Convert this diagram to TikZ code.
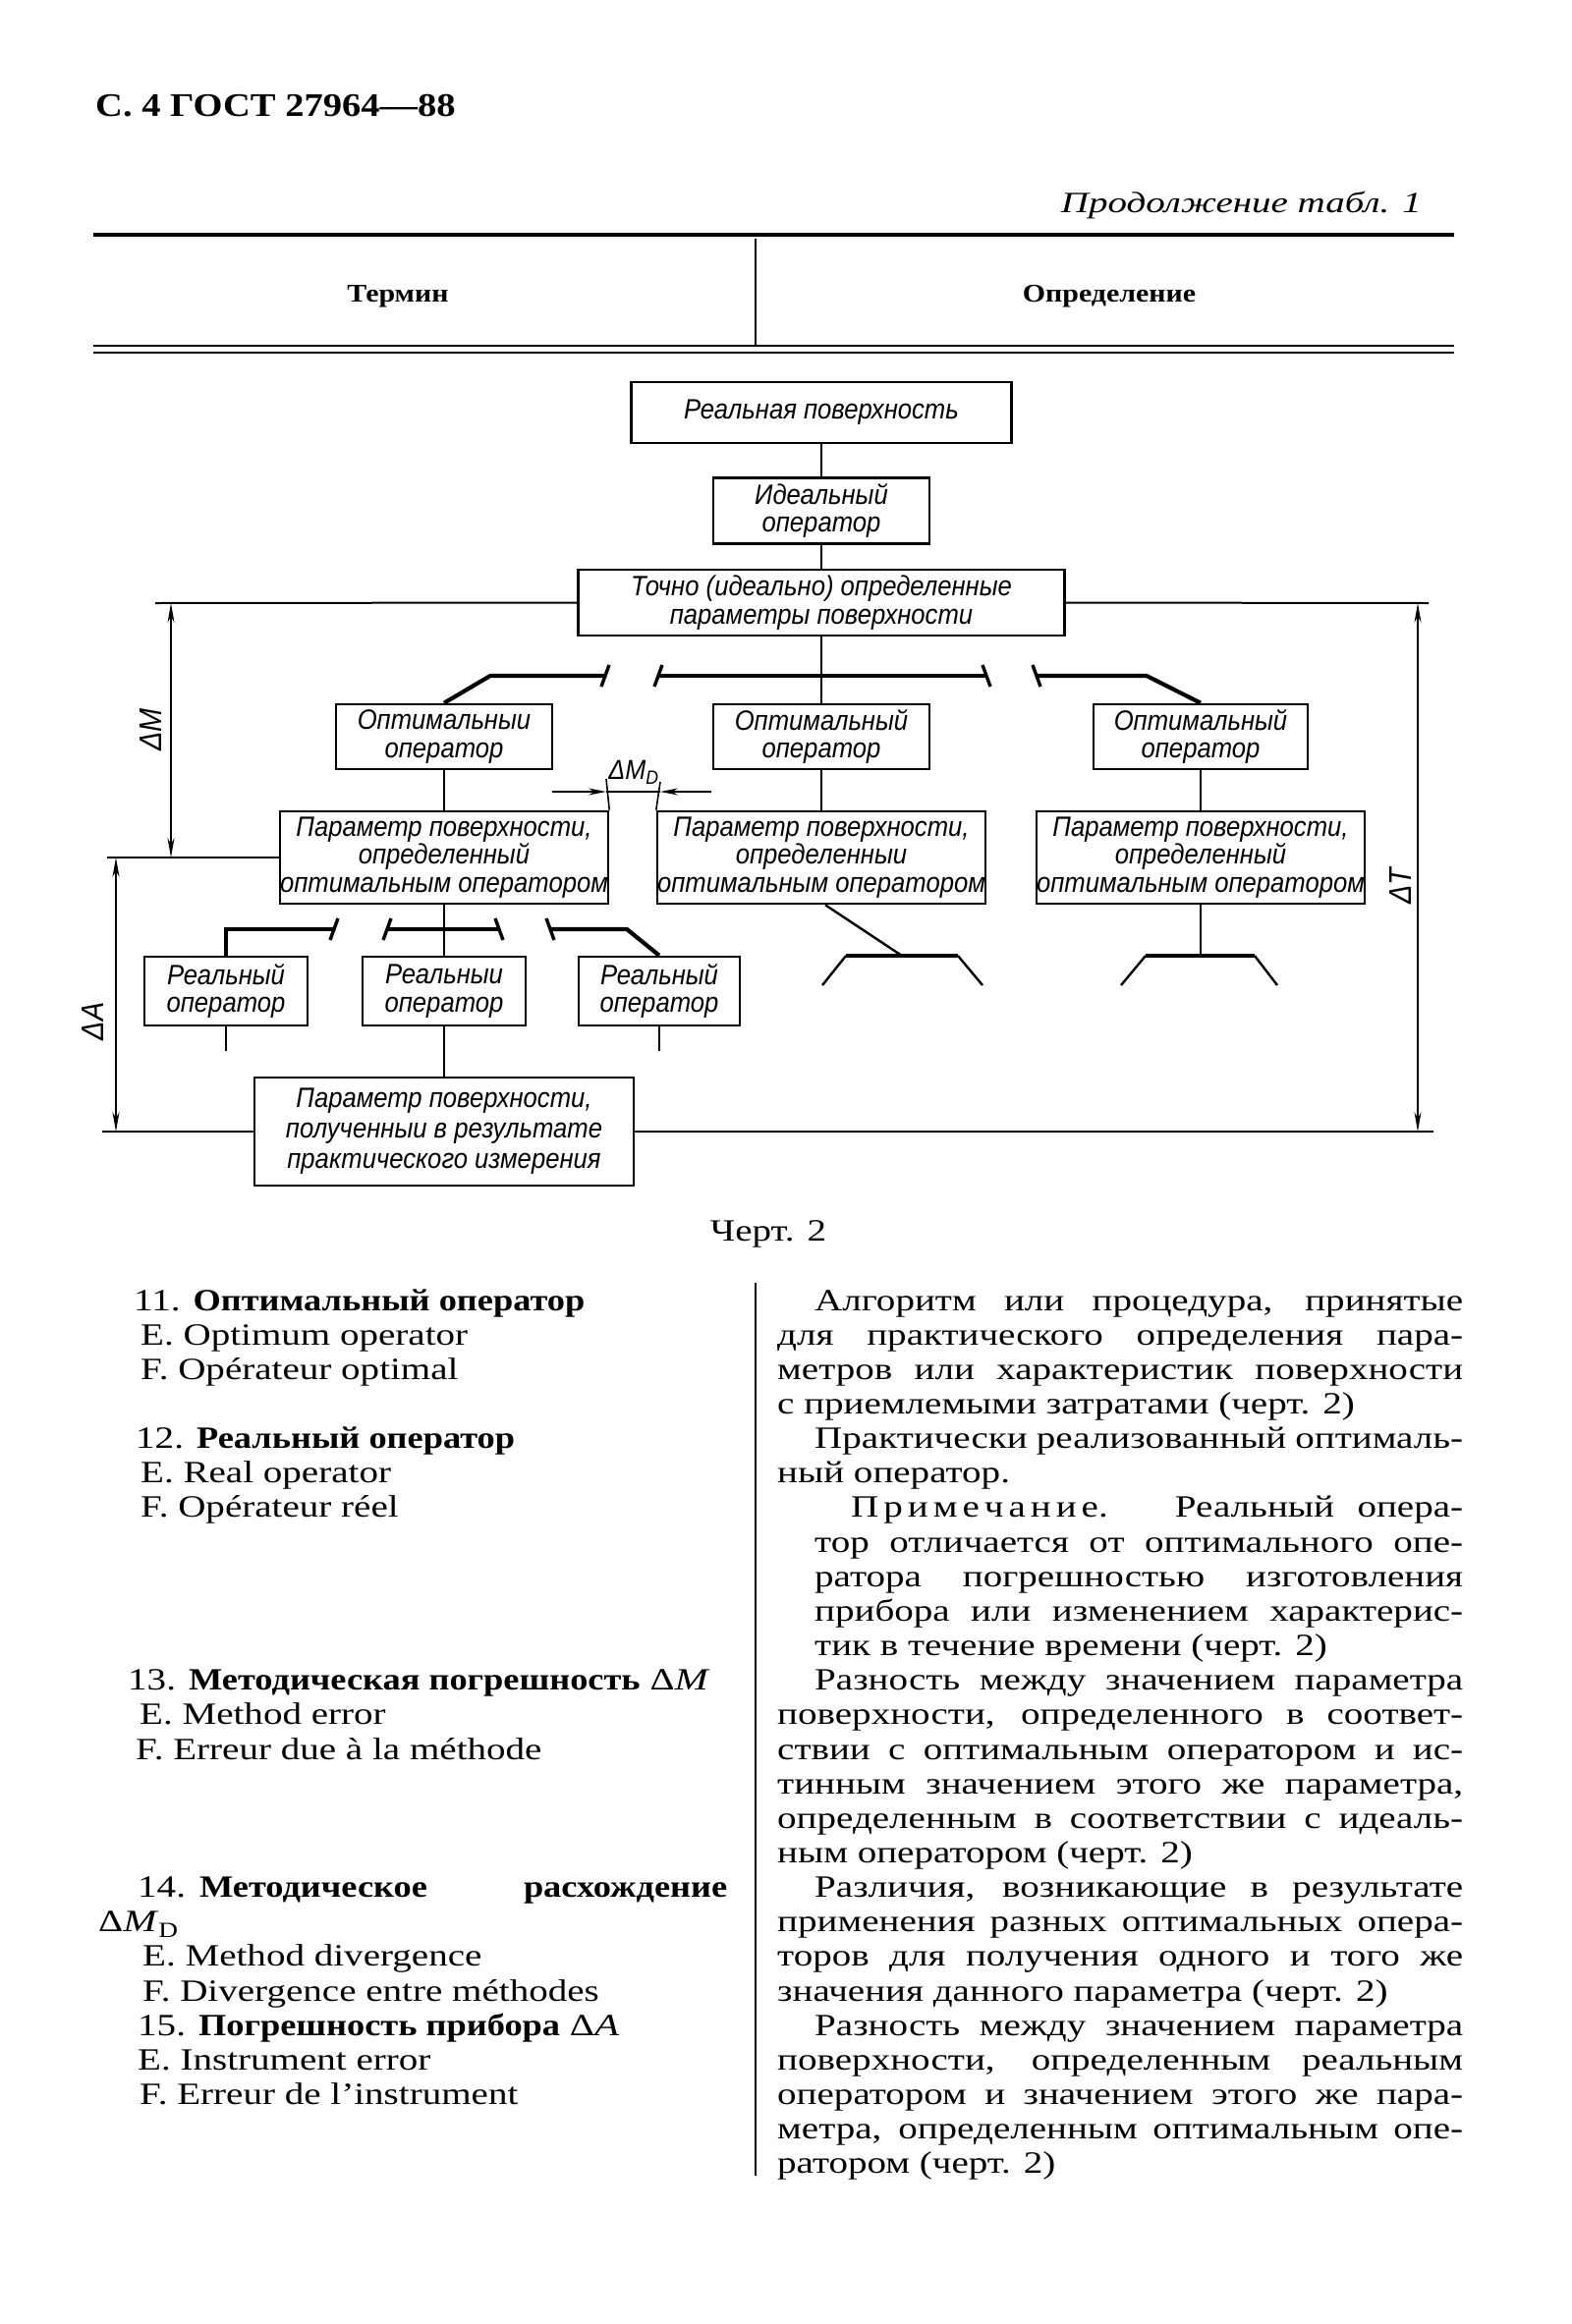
\documentclass[tikz,border=0pt]{standalone}
\usepackage{fontspec}
\setmainfont{Liberation Serif}[UprightFeatures={FakeStretch=1.24}, ItalicFeatures={FakeStretch=1.3}, BoldFeatures={FakeStretch=1.155}, BoldItalicFeatures={FakeStretch=1.155}]
\newfontfamily\hdrfont{Liberation Serif}[FakeStretch=1.15]
\newfontfamily\drfont{Liberation Sans}[FakeStretch=0.9]
\usetikzlibrary{arrows.meta}
\tikzset{
  box/.style={draw, line width=2.6pt, inner sep=0pt, align=center,
    font=\drfont\itshape\fontsize{28.5}{28.5}\selectfont},
  conn/.style={line width=2.4pt},
  brk/.style={line width=4.2pt},
  tk/.style={line width=3.4pt},
  thinl/.style={line width=2pt},
  dim/.style={line width=1.6pt},
  dimarr/.style={dim, {Stealth[length=20pt,width=7pt]}-{Stealth[length=20pt,width=7pt]}},
  onearr/.style={dim, -{Stealth[length=18pt,width=7pt]}},
  dlab/.style={font=\drfont\itshape\fontsize{32}{32}\selectfont, inner sep=0pt},
  body/.style={anchor=base west, inner sep=0pt, font=\fontsize{31.5}{35}\selectfont},
  rule/.style={line width=4pt}
}
\begin{document}
\begin{tikzpicture}[x=1pt,y=-1pt]
\fill[white] (0,0) rectangle (1600,2366);
\useasboundingbox (0,0) rectangle (1600,2366);

% ---------- header ----------
\node[anchor=base west, inner sep=0pt, font=\hdrfont\bfseries\fontsize{33.5}{33.5}\selectfont] (hdr) at (97,118) {С. 4 ГОСТ 27964—88};
\node[anchor=base east, inner sep=0pt, font=\itshape\fontsize{30}{30}\selectfont] (cont) at (1447,216) {Продолжение табл. 1};
\coordinate (ra) at (95,239); \coordinate (rb) at (1480,239);
\draw[rule] (ra) -- (rb);
\coordinate (dv1) at (769,243); \coordinate (dv2) at (769,352);
\draw[line width=1.6pt] (dv1) -- (dv2);
\node[inner sep=0pt, font=\bfseries\fontsize{25.9}{25.9}\selectfont] (term) at (405,302) {Термин};
\node[inner sep=0pt, font=\bfseries\fontsize{25.9}{25.9}\selectfont] (defn) at (1129,302) {Определение};
\coordinate (da1) at (95,352); \coordinate (db1) at (1480,352);
\coordinate (da2) at (95,359); \coordinate (db2) at (1480,359);
\draw[line width=2.6pt] (da1) -- (db1);
\draw[line width=2.6pt] (da2) -- (db2);

% ---------- diagram boxes ----------
\node[box, minimum width=387pt, minimum height=62pt] (rs) at (836,420) {Реальная поверхность};
\node[box, minimum width=220pt, minimum height=67pt] (io) at (836,520) {Идеальный\\оператор};
\node[box, minimum width=495pt, minimum height=67pt] (tp) at (836,613.5) {Точно (идеально) определенные\\параметры поверхности};
\node[box, minimum width=220pt, minimum height=66pt] (o1) at (452,750) {Оптимальныи\\оператор};
\node[box, minimum width=220pt, minimum height=66pt] (o2) at (836,750) {Оптимальный\\оператор};
\node[box, minimum width=218pt, minimum height=66pt] (o3) at (1222,750) {Оптимальный\\оператор};
\node[box, minimum width=330pt, minimum height=94pt] (p1) at (452,873) {Параметр поверхности,\\определенный\\оптимальным оператором};
\node[box, minimum width=328pt, minimum height=94pt] (p2) at (836,873) {Параметр поверхности,\\определенныи\\оптимальным оператором};
\node[box, minimum width=332pt, minimum height=94pt] (p3) at (1222,873) {Параметр поверхности,\\определенный\\оптимальным оператором};
\node[box, minimum width=166pt, minimum height=70pt] (r1) at (230,1009) {Реальный\\оператор};
\node[box, minimum width=166pt, minimum height=70pt] (r2) at (452,1009) {Реальныи\\оператор};
\node[box, minimum width=164pt, minimum height=70pt] (r3) at (671,1009) {Реальный\\оператор};
\node[box, minimum width=386pt, minimum height=110pt, font=\drfont\itshape\fontsize{28.5}{31}\selectfont] (fm) at (452,1152) {Параметр поверхности,\\полученныи в результате\\практического измерения};

% ---------- connectors ----------
\draw[conn] (rs) -- (io);
\draw[conn] (io) -- (tp);
\draw[conn] (tp.south) -- (o2.north);
\draw[conn] (o1) -- (p1);
\draw[conn] (o2) -- (p2);
\draw[conn] (o3) -- (p3);
\draw[conn] (p1.south) -- (r2.north);
\draw[conn] (r2) -- (fm);

% upper brackets
\coordinate (bl1) at (616,688);
\coordinate (bm1) at (670,688); \coordinate (bm2) at (1004,688);
\coordinate (br1) at (1055,688);
\draw[brk] (o1.north) -- (499,688) -- (bl1);
\draw[brk] (bm1) -- (bm2);
\draw[brk] (br1) -- (1167,688) -- (o3.north);
\draw[tk, shift={(bl1)}] (4,-11) -- (-4,11);
\draw[tk, shift={(bm1)}] (4,-11) -- (-4,11);
\draw[tk, shift={(bm2)}] (-4,-11) -- (4,11);
\draw[tk, shift={(br1)}] (-4,-11) -- (4,11);

% lower brackets
\coordinate (ll1) at (340,946);
\coordinate (lm1) at (394,946); \coordinate (lm2) at (508,946);
\coordinate (lr1) at (560,946);
\draw[brk] (r1.north) -- (230,946) -- (ll1);
\draw[brk] (lm1) -- (lm2);
\draw[brk] (lr1) -- (638,946) -- (r3.north);
\draw[tk, shift={(ll1)}] (4,-11) -- (-4,11);
\draw[tk, shift={(lm1)}] (4,-11) -- (-4,11);
\draw[tk, shift={(lm2)}] (-4,-11) -- (4,11);
\draw[tk, shift={(lr1)}] (-4,-11) -- (4,11);

% dangling lines under real operators
\coordinate (r1d) at (230,1070); \coordinate (r3d) at (671,1070);
\draw[conn] (r1.south) -- (r1d);
\draw[conn] (r3.south) -- (r3d);

% trapezoids
\coordinate (t2) at (918,973);
\coordinate (t3) at (1222,973);
\draw[conn] ([xshift=4pt]p2.south) -- (t2);
\draw[conn] (p3.south) -- (t3);
\draw[brk, shift={(t2)}] (-57,0) -- (57,0);
\draw[conn, shift={(t2)}] (-81,30) -- (-57,0);
\draw[conn, shift={(t2)}] (57,0) -- (82,30);
\draw[brk, shift={(t3)}] (-56,0) -- (55,0);
\draw[conn, shift={(t3)}] (-81,30) -- (-56,0);
\draw[conn, shift={(t3)}] (55,0) -- (78,30);

% horizontal reference lines
\coordinate (hTL) at (158,614); \coordinate (hTR) at (1454,614);
\coordinate (hML) at (109,873);
\coordinate (hBL) at (104,1152); \coordinate (hBR) at (1459,1152);
\draw[thinl] (tp.west) -- (hTL);
\draw[thinl] (tp.east) -- (hTR);
\draw[thinl] (p1.west) -- (hML);
\draw[thinl] (fm.west) -- (hBL);
\draw[thinl] (fm.east) -- (hBR);

% dimension arrows
\coordinate (dMt) at (174,614); \coordinate (dMb) at (174,873);
\coordinate (dAt) at (118,873); \coordinate (dAb) at (118,1152);
\coordinate (dTt) at (1443,614); \coordinate (dTb) at (1443,1152);
\draw[dimarr] (dMt) -- (dMb);
\draw[dimarr] (dAt) -- (dAb);
\draw[dimarr] (dTt) -- (dTb);
\node[dlab, rotate=90] (lM) at (153,743) {ΔM};
\node[dlab, rotate=90] (lA) at (94,1040) {ΔA};
\node[dlab, rotate=90] (lT) at (1425,902) {ΔT};

% Delta M_D
\coordinate (eL) at (617,793); \coordinate (eR) at (672,796);
\draw[dim] (p1.north east) -- (eL);
\draw[dim] (p2.north west) -- (eR);
\coordinate (aL) at (562,806); \coordinate (aLt) at (617,806);
\coordinate (aR) at (724,806); \coordinate (aRt) at (672,806);
\draw[onearr] (aL) -- (aLt);
\draw[onearr] (aR) -- (aRt);
\draw[dim] (aLt) -- (aRt);
\node[dlab, font=\drfont\itshape\fontsize{28}{28}\selectfont] (lMD) at (645,786) {ΔM\textsubscript{D}};

% caption
\node[inner sep=0pt, font=\fontsize{31.5}{35}\selectfont] (cap) at (782,1256) {Черт. 2};

% ---------- text section ----------
\coordinate (cd1) at (769,1306); \coordinate (cd2) at (769,2215);
\draw[line width=2.4pt] (cd1) -- (cd2);

% left column
\node[body] (lt0) at (136,1334.0) {11. \textbf{Оптимальный оператор}};
\node[body] (lt1) at (143,1369.2) {E. Optimum operator};
\node[body] (lt2) at (143,1404.3) {F. Opérateur optimal};
\node[body] (lt4) at (138,1474.6) {12. \textbf{Реальный оператор}};
\node[body] (lt5) at (143,1509.8) {E. Real operator};
\node[body] (lt6) at (143,1544.9) {F. Opérateur réel};
\node[body] (lt11) at (130,1720.7) {13. \textbf{Методическая погрешность} Δ\textit{M}};
\node[body] (lt12) at (142,1755.8) {E. Method error};
\node[body] (lt13) at (138,1791.0) {F. Erreur due à la méthode};
\node[body] (lt17) at (140,1931.6) {\makebox[600pt][s]{14.\hspace{14pt}\textbf{Методическое расхождение}}};
\node[body] (lt18) at (100,1966.7) {Δ\textit{M}\textsubscript{D}};
\node[body] (lt19) at (145,2001.9) {E. Method divergence};
\node[body] (lt20) at (145,2037.0) {F. Divergence entre méthodes};
\node[body] (lt21) at (140,2072.2) {15. \textbf{Погрешность прибора} Δ\textit{A}};
\node[body] (lt22) at (140,2107.3) {E. Instrument error};
\node[body] (lt23) at (142,2142.5) {F. Erreur de l’instrument};

% right column
\node[body] (rt0) at (829,1334.0) {\makebox[660pt][s]{Алгоритм или процедура, принятые}};
\node[body] (rt1) at (791,1369.2) {\makebox[698pt][s]{для практического определения пара-}};
\node[body] (rt2) at (791,1404.3) {\makebox[698pt][s]{метров или характеристик поверхности}};
\node[body] (rt3) at (791,1439.5) {с приемлемыми затратами (черт. 2)};
\node[body] (rt4) at (829,1474.6) {\makebox[660pt][s]{Практически реализованный оптималь-}};
\node[body] (rt5) at (791,1509.8) {ный оператор.};
\node[body] (rt6) at (866,1544.9) {\makebox[623pt][s]{П\kern5pt р\kern5pt и\kern5pt м\kern5pt е\kern5pt ч\kern5pt а\kern5pt н\kern5pt и\kern5pt е.\hspace{14pt} Реальный опера-}};
\node[body] (rt7) at (829,1580.1) {\makebox[660pt][s]{тор отличается от оптимального опе-}};
\node[body] (rt8) at (829,1615.2) {\makebox[660pt][s]{ратора погрешностью изготовления}};
\node[body] (rt9) at (829,1650.4) {\makebox[660pt][s]{прибора или изменением характерис-}};
\node[body] (rt10) at (829,1685.5) {тик в течение времени (черт. 2)};
\node[body] (rt11) at (829,1720.7) {\makebox[660pt][s]{Разность между значением параметра}};
\node[body] (rt12) at (791,1755.8) {\makebox[698pt][s]{поверхности, определенного в соответ-}};
\node[body] (rt13) at (791,1791.0) {\makebox[698pt][s]{ствии с оптимальным оператором и ис-}};
\node[body] (rt14) at (791,1826.1) {\makebox[698pt][s]{тинным значением этого же параметра,}};
\node[body] (rt15) at (791,1861.3) {\makebox[698pt][s]{определенным в соответствии с идеаль-}};
\node[body] (rt16) at (791,1896.4) {ным оператором (черт. 2)};
\node[body] (rt17) at (829,1931.6) {\makebox[660pt][s]{Различия, возникающие в результате}};
\node[body] (rt18) at (791,1966.7) {\makebox[698pt][s]{применения разных оптимальных опера-}};
\node[body] (rt19) at (791,2001.9) {\makebox[698pt][s]{торов для получения одного и того же}};
\node[body] (rt20) at (791,2037.0) {значения данного параметра (черт. 2)};
\node[body] (rt21) at (829,2072.2) {\makebox[660pt][s]{Разность между значением параметра}};
\node[body] (rt22) at (791,2107.3) {\makebox[698pt][s]{поверхности, определенным реальным}};
\node[body] (rt23) at (791,2142.5) {\makebox[698pt][s]{оператором и значением этого же пара-}};
\node[body] (rt24) at (791,2177.6) {\makebox[698pt][s]{метра, определенным оптимальным опе-}};
\node[body] (rt25) at (791,2212.8) {ратором (черт. 2)};
\end{tikzpicture}
\end{document}
